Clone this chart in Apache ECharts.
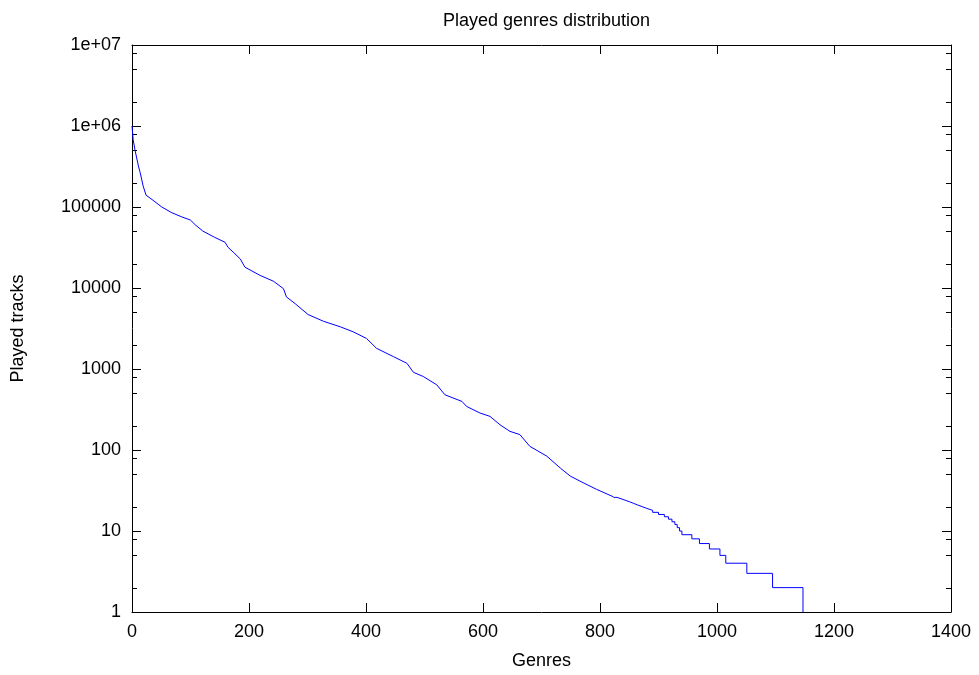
<!DOCTYPE html>
<html>
<head>
<meta charset="utf-8">
<title>Played genres distribution</title>
<script src="https://cdn.jsdelivr.net/npm/echarts@6/dist/echarts.min.js"></script>
<style>
  html, body { margin: 0; padding: 0; background: #fff; }
  #chart { width: 979px; height: 675px; }
</style>
</head>
<body>
<div id="chart"></div>
<script>
// Genres ranked by play count: the steep head of the distribution.
const headRank = [0, 2, 5, 11, 14, 19, 24, 36, 50, 67, 84, 100, 108, 121, 141, 159, 164, 173, 185, 193,
  219, 242, 259, 264, 279, 301, 327, 356, 378, 401, 418, 447, 470, 481, 498, 521, 535, 564, 572, 595,
  612, 629, 646, 663, 680, 709, 732, 749, 771, 794, 823];
const headTracks = [1000000, 680000, 510000, 320000, 265000, 182000, 140000, 121000, 101000, 85700,
  76000, 68900, 60400, 50500, 42300, 36700, 31900, 27700, 22900, 18100, 14300, 12100, 9800, 7750, 6400,
  4700, 3890, 3320, 2880, 2380, 1800, 1420, 1175, 911, 807, 637, 480, 398, 345, 286, 260, 205, 170, 155,
  111, 84, 60, 47.7, 39.5, 32.7, 26.4];

// Long tail: rank at which each (integer) play count begins.
const tailRank = [823, 829, 836, 843, 850, 857, 864, 872, 880, 890, 900, 910, 917, 923, 928, 932, 936,
  940, 957, 970, 987, 1005, 1015, 1051, 1095, 1147];
const tailTracks = [26, 25, 24, 23, 22, 21, 20, 19, 18, 17, 16, 15, 14, 13, 12, 11, 10,
  9, 8, 7, 6, 5, 4, 3, 2, 1];

// Axis ticks
const xTickValues = [0, 200, 400, 600, 800, 1000, 1200, 1400];
const yTickLabels = ['1', '10', '100', '1000', '10000', '100000', '1e+06', '1e+07'];
const yMinorSteps = [2, 5, 8];

const xMin = xTickValues[0];
const xMax = xTickValues[xTickValues.length - 1];
const xStep = xTickValues[1] - xTickValues[0];
const yMin = 1;
const yMax = Math.pow(10, yTickLabels.length - 1);

const minorTickValues = [];
for (let e = 0; e < yTickLabels.length - 1; e++) {
  yMinorSteps.forEach(m => minorTickValues.push(m * Math.pow(10, e)));
}

const FONT = 'Liberation Sans, Arial, Helvetica, sans-serif';
const FONT_SIZE = 18;
const LINE_COLOR = '#0000ff';

const zip = (a, b) => a.map((v, i) => [v, b[i]]);

function baseX(extra) {
  return Object.assign({
    type: 'value',
    min: xMin,
    max: xMax,
    interval: xStep,
    axisLine: { show: true, onZero: false, lineStyle: { color: '#000', width: 1 } },
    axisTick: { show: true, inside: true, length: 9, lineStyle: { color: '#000', width: 1 } },
    splitLine: { show: false },
    axisLabel: { show: false }
  }, extra);
}

function baseY(extra) {
  return Object.assign({
    type: 'log',
    logBase: 10,
    min: yMin,
    max: yMax,
    axisLine: { show: true, onZero: false, lineStyle: { color: '#000', width: 1 } },
    axisTick: { show: true, inside: true, length: 9, lineStyle: { color: '#000', width: 1 } },
    splitLine: { show: false },
    minorTick: { show: false },
    axisLabel: { show: false }
  }, extra);
}

const chart = echarts.init(document.getElementById('chart'), null, { renderer: 'canvas' });

chart.setOption({
  animation: false,
  backgroundColor: '#fff',
  textStyle: { fontFamily: FONT },
  title: {
    text: 'Played genres distribution',
    left: 541.5,
    top: 7,
    textAlign: 'center',
    textStyle: { fontFamily: FONT, fontSize: FONT_SIZE, fontWeight: 'normal', color: '#000' }
  },
  grid: { left: 132, right: 28, top: 45, bottom: 60, containLabel: false },
  xAxis: [
    baseX({
      position: 'bottom',
      name: 'Genres',
      nameLocation: 'middle',
      nameGap: 40,
      nameTextStyle: { fontFamily: FONT, fontSize: FONT_SIZE, color: '#000' },
      axisLabel: {
        show: true, margin: 11, color: '#000', fontFamily: FONT, fontSize: FONT_SIZE,
        formatter: v => String(v)
      }
    }),
    baseX({ position: 'top' })
  ],
  yAxis: [
    baseY({
      position: 'left',
      name: 'Played tracks',
      nameLocation: 'middle',
      nameGap: 105,
      nameRotate: 90,
      nameTextStyle: { fontFamily: FONT, fontSize: FONT_SIZE, color: '#000' },
      axisLabel: {
        show: true, margin: 11, color: '#000', fontFamily: FONT, fontSize: FONT_SIZE,
        formatter: v => yTickLabels[Math.round(Math.log10(v))]
      }
    }),
    baseY({ position: 'right' })
  ],
  series: [
    {
      name: 'head',
      type: 'line',
      xAxisIndex: 0,
      yAxisIndex: 0,
      data: zip(headRank, headTracks),
      showSymbol: false,
      symbol: 'none',
      lineStyle: { color: LINE_COLOR, width: 1 },
      silent: true
    },
    {
      name: 'tail',
      type: 'line',
      xAxisIndex: 0,
      yAxisIndex: 0,
      step: 'end',
      data: zip(tailRank, tailTracks),
      showSymbol: false,
      symbol: 'none',
      lineStyle: { color: LINE_COLOR, width: 1 },
      silent: true
    },
    {
      // Minor ticks of the log axis (2, 5, 8 per decade), mirrored on both sides
      name: 'minorTicks',
      type: 'custom',
      xAxisIndex: 0,
      yAxisIndex: 0,
      silent: true,
      clip: false,
      data: minorTickValues.map(v => [xMin, v]),
      renderItem: function (params, api) {
        const v = api.value(1);
        const l = api.coord([xMin, v]);
        const r = api.coord([xMax, v]);
        const y = Math.round(l[1]) + 0.5;
        const st = { stroke: '#000', lineWidth: 1 };
        return {
          type: 'group',
          children: [
            { type: 'line', shape: { x1: l[0], y1: y, x2: l[0] + 5, y2: y }, style: st },
            { type: 'line', shape: { x1: r[0], y1: y, x2: r[0] - 5, y2: y }, style: st }
          ]
        };
      }
    }
  ]
});
</script>
</body>
</html>
